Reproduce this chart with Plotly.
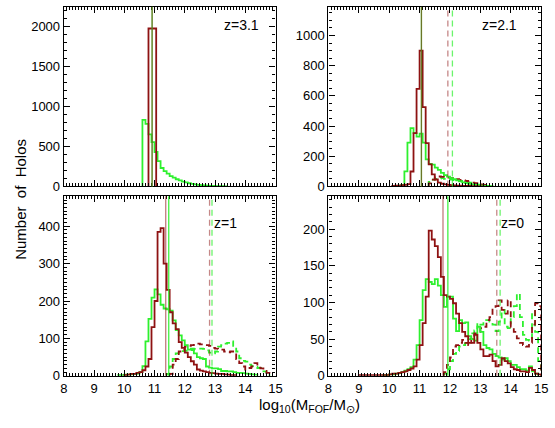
import plotly.graph_objects as go
from plotly.subplots import make_subplots

BIN = 0.1

# ---- z = 3.1 (top-left) ----
g31_start = 10.6
g31 = [830, 780, 650, 552, 430, 315, 230, 190, 160, 130, 110, 90, 75, 60, 50, 40,
       32, 25, 20, 16, 13, 10, 8, 6, 5, 4, 3, 2]
r31_start = 10.8
r31 = [1970, 1970, 1970]
r31_width = 0.085
vline31 = dict(g=10.92, r=10.92)

# ---- z = 2.1 (top-right) ----
g21_start = 10.3
g21 = [5, 10, 100, 290, 386, 353, 330, 350, 290, 180, 150, 145, 125, 110, 90, 75, 65,
       55, 48, 40, 33, 27, 22, 18, 14, 11, 8, 6, 4, 3, 2]
r21_start = 10.1
r21 = [3, 5, 6, 8, 10, 15, 99, 353, 647, 900, 525, 287, 146, 80, 46, 26, 18, 14, 11,
       9, 7, 6, 5, 4, 3, 3, 2, 2, 1, 1]
g21d_start = 11.3
g21d = [30, 45, 50, 52, 55, 50, 48, 45, 42, 40, 36, 33, 28, 25, 20, 16, 12, 8, 5]
r21d_start = 11.3
r21d = [20, 45, 60, 66, 64, 60, 58, 55, 52, 48, 44, 40, 36, 30, 26, 22, 18, 14, 10, 6]
vline21 = dict(g=11.06, r=11.06, gd=12.08, rd=11.93)

# ---- z = 1 (bottom-left) ----
g1_start = 9.8
g1 = [2, 2, 3, 3, 4, 5, 6, 10, 26, 92, 152, 209, 231, 218, 190, 180, 178, 174, 148,
      122, 108, 95, 82, 70, 73, 60, 50, 47, 45, 25, 22, 20, 20, 18, 13, 13, 12, 12,
      10, 8, 8, 7, 6, 5, 4, 3]
r1_start = 10.0
r1 = [2, 3, 5, 5, 8, 10, 15, 25, 45, 130, 200, 385, 395, 300, 230, 170, 140, 125,
      90, 75, 62, 50, 39, 30, 17, 14, 12, 10, 8, 7, 6, 5, 5, 4, 3, 2, 2]
g1d_start = 11.4
g1d = [5, 25, 45, 60, 65, 66, 67, 68, 69, 72, 73, 73, 72, 68, 62, 60, 65, 78, 82, 86,
       88, 92, 80, 65, 47, 40, 38, 30, 26, 24, 21, 21, 12, 5]
r1d_start = 11.5
r1d = [5, 30, 45, 65, 70, 78, 80, 82, 85, 86, 84, 82, 82, 80, 75, 73, 72, 70, 65, 63,
       65, 60, 45, 34, 25, 17, 21, 25, 34, 22, 20, 13, 8]
vline1 = dict(g=11.47, r=11.37, gd=12.9, rd=12.82)

# ---- z = 0 (bottom-right) ----
g0_start = 9.8
g0 = [1, 1, 2, 2, 3, 4, 5, 7, 9, 12, 22, 42, 76, 117, 132, 128, 125, 132, 123, 110,
      94, 108, 108, 78, 61, 76, 72, 73, 54, 50, 48, 67, 60, 42, 38, 36, 30, 27, 25,
      22, 24, 20, 15, 15, 12, 9, 9, 7, 13, 6, 3]
r0_start = 9.0
r0 = [1, 1, 1, 1, 1, 1, 1, 1, 1, 1, 2, 3, 3, 4, 5, 6, 8, 10, 13, 22, 42, 72, 108, 198,
      186, 177, 162, 135, 110, 108, 105, 99, 85, 72, 60, 54, 45, 45, 56, 45, 36, 27,
      27, 29, 20, 13, 15, 24, 20, 17, 12, 9, 8, 6, 6, 5, 11, 8, 3, 2]
g0d_start = 11.8
g0d = [3, 9, 20, 30, 34, 40, 42, 45, 50, 58, 62, 72, 70, 76, 76, 74, 70, 61, 74, 90,
       67, 65, 80, 95, 112, 80, 56, 49, 48, 88, 60, 20]
r0d_start = 11.8
r0d = [5, 15, 25, 40, 42, 45, 49, 45, 42, 50, 58, 60, 65, 67, 76, 80, 92, 95, 103, 90,
       85, 103, 67, 60, 51, 45, 42, 40, 45, 70, 99, 95]
vline0 = dict(g=11.93, r=11.77, gd=13.65, rd=13.54)

y_ranges = [[0, 2240], [0, 1190], [0, 480], [0, 245]]
y_dticks = [500, 200, 100, 50]
y_minor = [100, 50, 10, 10]
z_labels = ["z=3.1", "z=2.1", "z=1", "z=0"]

X_TICKS = [8, 9, 10, 11, 12, 13, 14, 15]

GREEN = "#2ef02e"
RED = "#8e1212"

fig = make_subplots(rows=2, cols=2)


def step(start, counts, width=BIN):
    xs = [start]
    ys = [0]
    for i, c in enumerate(counts):
        xs.append(start + i * width)
        ys.append(c)
    xs.append(start + len(counts) * width)
    ys.append(0)
    return xs, ys


panels = [
    (1, 1, [(g31_start, g31, BIN, GREEN, "solid"), (r31_start, r31, r31_width, RED, "solid")], vline31),
    (1, 2, [(g21d_start, g21d, BIN, GREEN, "dash"), (r21d_start, r21d, BIN, RED, "dash"),
            (g21_start, g21, BIN, GREEN, "solid"), (r21_start, r21, BIN, RED, "solid")], vline21),
    (2, 1, [(g1d_start, g1d, BIN, GREEN, "dash"), (r1d_start, r1d, BIN, RED, "dash"),
            (g1_start, g1, BIN, GREEN, "solid"), (r1_start, r1, BIN, RED, "solid")], vline1),
    (2, 2, [(g0d_start, g0d, BIN, GREEN, "dash"), (r0d_start, r0d, BIN, RED, "dash"),
            (g0_start, g0, BIN, GREEN, "solid"), (r0_start, r0, BIN, RED, "solid")], vline0),
]

for (row, col, series, vl) in panels:
    for (s, c, w, colr, dash) in series:
        xs, ys = step(s, c, w)
        fig.add_trace(go.Scatter(x=xs, y=ys, mode="lines", line_shape="hv",
                                 line=dict(color=colr, width=1.8,
                                           dash="6px,4px" if dash == "dash" else "solid"),
                                 showlegend=False, hoverinfo="skip"),
                      row=row, col=col)
    for key, colr, dsh, op in [("g", GREEN, "solid", 0.9), ("r", RED, "solid", 0.55),
                               ("gd", GREEN, "6px,4px", 0.7), ("rd", RED, "6px,4px", 0.5)]:
        if key in vl:
            fig.add_vline(x=vl[key], line=dict(color=colr, width=1.3, dash=dsh),
                          opacity=op, row=row, col=col)

x_domains = [[61 / 555, 277 / 555], [331 / 555, 548 / 555]]
y_domains = [[(428 - 190) / 428, (428 - 7) / 428], [(428 - 383) / 428, (428 - 200) / 428]]

FONT = "Liberation Sans"
z_pos = [(0.93, 0.90), (0.894, 0.90), (0.829, 0.852), (0.931, 0.852)]

for i in range(4):
    row = i // 2
    col = i % 2
    n = "" if i == 0 else str(i + 1)
    fig.layout["xaxis" + n].update(
        domain=x_domains[col], range=[8, 15], tickvals=X_TICKS,
        ticks="inside", ticklen=6, tickwidth=1, tickcolor="black",
        showline=True, linecolor="black", linewidth=1.2, mirror="ticks",
        showgrid=False, zeroline=False,
        showticklabels=(row == 1),
        tickfont=dict(family=FONT, size=13, color="black"),
        minor=dict(dtick=0.1, ticks="inside", ticklen=3, tickcolor="black", showgrid=False),
    )
    fig.layout["yaxis" + n].update(
        domain=y_domains[row], range=y_ranges[i], dtick=y_dticks[i], tick0=0,
        ticks="inside", ticklen=6, tickwidth=1, tickcolor="black",
        showline=True, linecolor="black", linewidth=1.2, mirror="ticks",
        showgrid=False, zeroline=False,
        tickfont=dict(family=FONT, size=13, color="black"),
        minor=dict(dtick=y_minor[i], ticks="inside", ticklen=3, tickcolor="black", showgrid=False),
    )
    xr = "x" + n
    yr = "y" + n
    fig.add_annotation(text=z_labels[i], x=z_pos[i][0], y=z_pos[i][1],
                       xref=xr + " domain", yref=yr + " domain",
                       xanchor="right", yanchor="middle", showarrow=False,
                       font=dict(family=FONT, size=14, color="black"))

fig.add_annotation(text="Number  of  Holos", textangle=-90, x=17 / 555, y=(428 - 203) / 428,
                   xref="paper", yref="paper", showarrow=False, xanchor="center", yanchor="middle",
                   font=dict(family=FONT, size=15, color="black"))
fig.add_annotation(text="log<sub>10</sub>(M<sub>FOF</sub>/M<sub>⊙</sub>)", x=312 / 555,
                   y=(428 - 413) / 428, xref="paper", yref="paper", showarrow=False,
                   xanchor="center", yanchor="middle",
                   font=dict(family=FONT, size=15, color="black"))

fig.update_layout(width=555, height=428, margin=dict(l=0, r=0, t=0, b=0),
                  paper_bgcolor="white", plot_bgcolor="white", showlegend=False)

fig.write_html("out.html")
